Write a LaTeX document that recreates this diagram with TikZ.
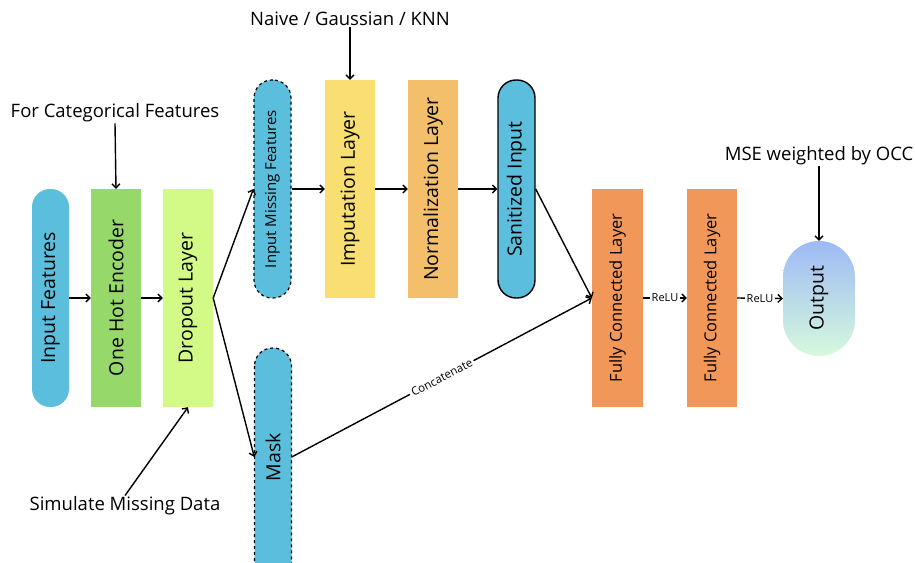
\documentclass[tikz,border=0pt]{standalone}
\usepackage{fontspec}
\setmainfont{Open Sans}
\usetikzlibrary{arrows.meta}
\definecolor{cblue}{RGB}{91,190,220}
\definecolor{cgreen}{RGB}{151,216,106}
\definecolor{clime}{RGB}{211,250,134}
\definecolor{cyellow}{RGB}{249,223,114}
\definecolor{corange}{RGB}{244,191,106}
\definecolor{cfc}{RGB}{242,151,90}
\definecolor{outtop}{RGB}{157,186,245}
\definecolor{outbot}{RGB}{215,249,221}
\begin{document}
\begin{tikzpicture}[x=1pt,y=-1pt,
  layer/.style={minimum width=50pt, minimum height=218pt, inner sep=0pt, font=\fontsize{19.5}{21}\selectfont},
  pill/.style={minimum width=37pt, minimum height=218pt, inner sep=0pt, rounded corners=18pt, fill=cblue, font=\fontsize{19.5}{21}\selectfont},
  dashpill/.style={pill, draw=black, dashed, line width=1.2pt},
  annot/.style={font=\fontsize{18.5}{21}\selectfont, inner sep=1pt},
  conn/.style={line width=1.4pt, -{Straight Barb[length=4pt,width=8pt,line width=1.4pt]}},
  small/.style={font=\fontsize{11}{12}\selectfont, fill=white, inner sep=2pt}
]
\useasboundingbox (0,0) rectangle (915,562);

% main nodes
\node[pill] (inp) at (50.5,298) {\rotatebox{90}{Input Features}};
\node[layer, fill=cgreen] (ohe) at (116,298) {\rotatebox{90}{One Hot Encoder}};
\node[layer, fill=clime] (drop) at (188,298) {\rotatebox{90}{Dropout Layer}};
\node[dashpill, font=\fontsize{15}{17}\selectfont] (imf) at (272.5,189) {\rotatebox{90}{Input Missing Features}};
\node[layer, fill=cyellow] (imp) at (350,189) {\rotatebox{90}{Imputation Layer}};
\node[layer, fill=corange] (norm) at (433,189) {\rotatebox{90}{Normalization Layer}};
\node[pill, draw=black, line width=1.4pt] (san) at (516.5,189) {\rotatebox{90}{Sanitized Input}};
% mask pill runs past the bottom edge
\draw[fill=cblue, draw=black, dashed, line width=1.2pt, rounded corners=18pt] (254.5,348) rectangle (291.5,620);
\node[minimum width=37pt, minimum height=218pt, inner sep=0pt, font=\fontsize{19.5}{21}\selectfont] (mask) at (273,457) {\rotatebox{90}{Mask}};
\node[layer, fill=cfc, minimum width=51pt, font=\fontsize{16.5}{18}\selectfont] (fc1) at (617.5,298) {\rotatebox{90}{Fully Connected Layer}};
\node[layer, fill=cfc, font=\fontsize{16.5}{18}\selectfont] (fc2) at (712,298) {\rotatebox{90}{Fully Connected Layer}};
\node[minimum width=72pt, minimum height=115pt, inner sep=0pt, rounded corners=36pt,
      top color=outtop, bottom color=outbot, font=\fontsize{19.5}{21}\selectfont] (out) at (819,298.5) {\rotatebox{90}{Output}};

% annotation texts
\node[annot] (cat) at (115,113) {For Categorical Features};
\node[annot] (naive) at (350,19) {Naive / Gaussian / KNN};
\node[annot] (sim) at (125,506) {Simulate Missing Data};
\node[annot] (mse) at (819,156) {MSE weighted by OCC};

% connectors
\draw[conn] (inp.east) -- (ohe.west);
\draw[conn] (ohe.east) -- (drop.west);
\draw[conn] (drop.east) -- (imf.west);
\draw[conn] (drop.east) -- (mask.west);
\draw[conn] (imf.east) -- (imp.west);
\draw[conn] (imp.east) -- (norm.west);
\draw[conn] (norm.east) -- (san.west);
\draw[conn] (san.east) -- (fc1.west);
\draw[conn] (mask.east) -- node[sloped, fill=white, font=\fontsize{11.5}{12}\selectfont, inner sep=2pt] {Concatenate} (fc1.west);
\draw[conn] (fc1.east) -- node[small] {ReLU} (fc2.west);
\draw[conn] (fc2.east) -- node[small] {ReLU} (out.west);

\draw[conn] (cat.south) -- (ohe.north);
\draw[conn] (naive.south) -- (imp.north);
\draw[conn] (sim.north) -- (drop.south);
\draw[conn] (mse.south) -- (out.north);
\end{tikzpicture}
\end{document}
